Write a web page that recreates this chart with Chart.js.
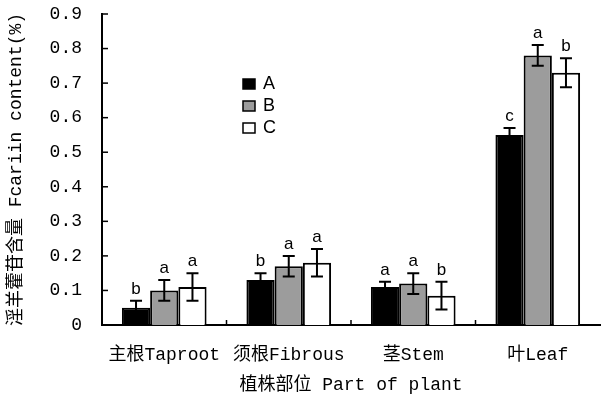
<!DOCTYPE html>
<html>
<head>
<meta charset="utf-8">
<script src="https://cdn.jsdelivr.net/npm/chart.js@4.4.0/dist/chart.umd.min.js"></script>
<style>
  html, body { margin: 0; padding: 0; background: #fff; }
  #wrap { width: 603px; height: 400px; }
</style>
</head>
<body>
<div id="wrap"><canvas id="chart" width="603" height="400"></canvas></div>
<script>
// data
const categories = ['主根Taproot', '须根Fibrous', '茎Stem', '叶Leaf'];
const seriesNames = ['A', 'B', 'C'];
const valuesA = [0.05, 0.13, 0.11, 0.55];
const valuesB = [0.10, 0.17, 0.12, 0.78];
const valuesC = [0.11, 0.18, 0.085, 0.73];
const errA = [0.02, 0.02, 0.015, 0.02];
const errB = [0.03, 0.03, 0.03, 0.03];
const errC = [0.04, 0.04, 0.04, 0.042];
const lettersA = ['b', 'b', 'a', 'c'];
const lettersB = ['a', 'a', 'a', 'a'];
const lettersC = ['a', 'a', 'b', 'b'];
const yTicks = [0, 0.1, 0.2, 0.3, 0.4, 0.5, 0.6, 0.7, 0.8, 0.9];

const monoFont = "'Liberation Mono', 'Noto Sans CJK SC', monospace";
const errors = [errA, errB, errC];
const letters = [lettersA, lettersB, lettersC];

// error bars, letters, inward ticks
const extrasPlugin = {
    id: 'extras',
    afterDatasetsDraw(chart) {
        const ctx = chart.ctx;
        const y = chart.scales.y;
        const area = chart.chartArea;
        ctx.save();
        ctx.strokeStyle = '#000';
        ctx.lineWidth = 2;
        chart.data.datasets.forEach((ds, di) => {
            const meta = chart.getDatasetMeta(di);
            meta.data.forEach((bar, i) => {
                const v = ds.data[i];
                const e = errors[di][i];
                const top = y.getPixelForValue(v + e);
                const bot = y.getPixelForValue(v - e);
                const cx = bar.x;
                ctx.beginPath();
                ctx.moveTo(cx, top); ctx.lineTo(cx, bot);
                ctx.moveTo(cx - 6, top); ctx.lineTo(cx + 6, top);
                ctx.moveTo(cx - 6, bot); ctx.lineTo(cx + 6, bot);
                ctx.stroke();
                ctx.fillStyle = '#000';
                ctx.font = "17px 'Liberation Sans', Arial, sans-serif";
                ctx.textAlign = 'center';
                ctx.textBaseline = 'bottom';
                ctx.fillText(letters[di][i], cx, top - 3);
            });
        });
        // y ticks pointing inward
        ctx.lineWidth = 1.5;
        yTicks.forEach(t => {
            const py = y.getPixelForValue(t);
            ctx.beginPath();
            ctx.moveTo(area.left, py); ctx.lineTo(area.left + 6, py);
            ctx.stroke();
        });
        // x ticks between categories
        const step = (area.right - area.left) / categories.length;
        for (let i = 1; i < categories.length; i++) {
            const px = area.left + step * i;
            ctx.beginPath();
            ctx.moveTo(px, area.bottom); ctx.lineTo(px, area.bottom - 5);
            ctx.stroke();
        }
        // legend
        const lx = 243, ly = 84, gap = 22;
        ctx.font = "18px 'Liberation Sans Narrow', 'Liberation Sans', Arial, sans-serif";
        ctx.textAlign = 'left';
        ctx.textBaseline = 'middle';
        chart.data.datasets.forEach((ds, di) => {
            const yy = ly + di * gap;
            ctx.fillStyle = ds.backgroundColor;
            ctx.fillRect(lx, yy - 5, 12, 10);
            ctx.lineWidth = 1.5;
            ctx.strokeRect(lx, yy - 5, 12, 10);
            ctx.fillStyle = '#000';
            ctx.fillText(ds.label, lx + 20, yy);
        });
        ctx.restore();
    }
};

const barStyle = { borderColor: '#000', borderWidth: 2, barPercentage: 1.0, categoryPercentage: 0.68 };

new Chart(document.getElementById('chart').getContext('2d'), {
    type: 'bar',
    data: {
        labels: categories,
        datasets: [
            Object.assign({ label: seriesNames[0], data: valuesA, backgroundColor: '#000000' }, barStyle),
            Object.assign({ label: seriesNames[1], data: valuesB, backgroundColor: '#9c9c9c' }, barStyle),
            Object.assign({ label: seriesNames[2], data: valuesC, backgroundColor: '#ffffff' }, barStyle)
        ]
    },
    options: {
        responsive: false,
        animation: false,
        layout: { padding: { top: 14, right: 3, left: 0, bottom: 0 } },
        plugins: { legend: { display: false }, tooltip: { enabled: false } },
        scales: {
            x: {
                grid: { display: false, drawTicks: false },
                border: { display: true, color: '#000', width: 2 },
                ticks: { color: '#000', font: { family: monoFont, size: 18 }, padding: 19 },
                title: { display: true, text: '植株部位 Part of plant', color: '#000', font: { family: monoFont, size: 18 }, padding: { top: 2, bottom: 4 } },
                afterFit(scale) { scale.height = 75; }
            },
            y: {
                min: 0,
                max: 0.9,
                grid: { display: false, drawTicks: false },
                border: { display: true, color: '#000', width: 2 },
                afterBuildTicks(scale) { scale.ticks = yTicks.map(v => ({ value: v })); },
                ticks: {
                    color: '#000',
                    font: { family: monoFont, size: 18 },
                    padding: 20,
                    callback: v => (v === 0 ? '0' : v.toFixed(1))
                },
                title: { display: true, text: '淫羊藿苷含量 Fcariin content(%)', color: '#000', font: { family: monoFont, size: 18 }, padding: { top: 5, bottom: 0 } },
                afterFit(scale) {
                    scale.width = 102;
                    scale.paddingTop = 0;
                    scale.paddingBottom = 0;
                }
            }
        }
    },
    plugins: [extrasPlugin]
});
</script>
</body>
</html>
